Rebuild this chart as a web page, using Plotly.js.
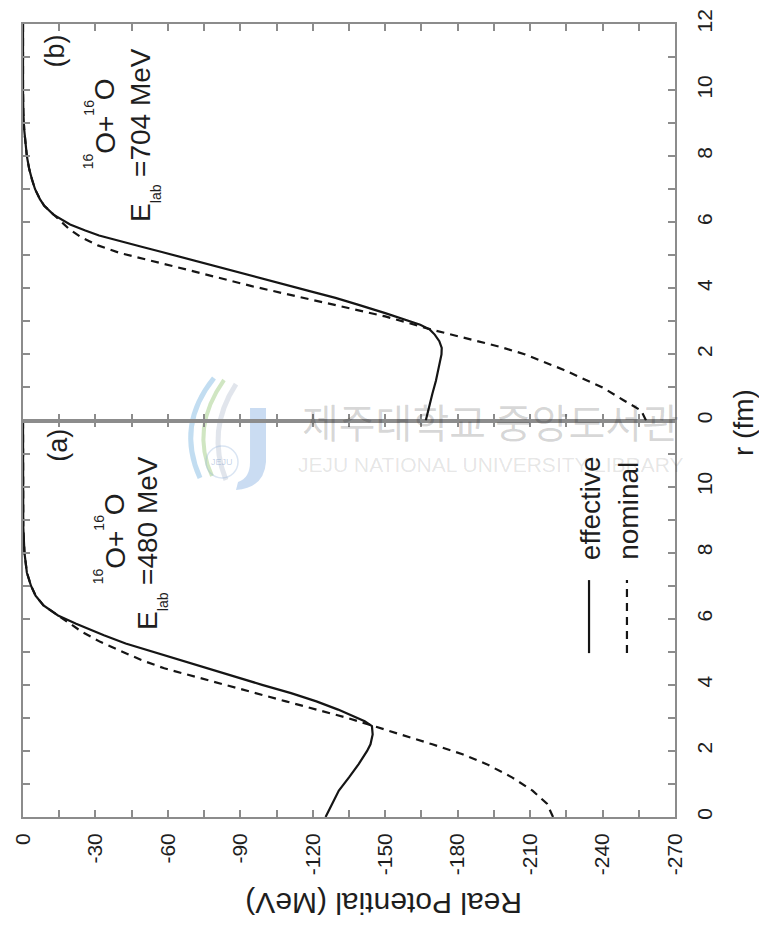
<!DOCTYPE html>
<html>
<head>
<meta charset="utf-8">
<script src="https://cdn.plot.ly/plotly-3.0.1.min.js"></script>
<style>
  html, body { margin: 0; padding: 0; background: #ffffff; }
  #chart { width: 759px; height: 928px; }
</style>
</head>
<body>
<div id="chart"></div>
<script>
// ---------------- data ----------------
// Panel (a): 16O+16O, E_lab = 480 MeV
const rEffA = [0, 0.4, 0.8, 1.2, 1.6, 2.0, 2.2, 2.5, 2.75, 2.9, 3.06, 3.25, 3.5, 3.75, 4.0, 4.25, 4.5, 4.75, 5.0, 5.25, 5.5, 5.7, 5.85, 6.1, 6.4, 6.7, 7.0, 7.4, 8.0, 8.8, 10, 12];
const vEffA = [-125.3, -128, -130.8, -135, -139, -142.5, -143.9, -144.8, -144.5, -141.5, -136.3, -130.5, -121.5, -111, -99, -87.5, -76, -64.5, -53, -42.5, -33.5, -26.5, -22, -14.5, -8.5, -5.2, -3.3, -1.6, -0.6, -0.1, 0, 0];
const rNomA = [0, 0.4, 0.8, 1.2, 1.6, 1.9, 2.2, 2.5, 2.75, 3.0, 3.5, 4.0, 4.5, 4.75, 5.0, 5.3, 5.6, 5.9, 6.2, 6.4, 6.7, 7.0, 7.4, 8.0, 8.8, 10, 12];
const vNomA = [-219.5, -217, -211, -202.5, -192, -182, -169.5, -156.5, -145.5, -134.3, -108.9, -83.5, -58.5, -49, -41, -32, -24.5, -18.5, -13, -8.5, -5.2, -3.3, -1.6, -0.6, -0.1, 0, 0];

// Panel (b): 16O+16O, E_lab = 704 MeV
const rEffB = [0, 0.4, 0.8, 1.2, 1.6, 2.0, 2.2, 2.4, 2.6, 2.75, 2.9, 3.05, 3.25, 3.5, 3.71, 3.9, 4.11, 4.3, 4.52, 4.72, 4.92, 5.1, 5.25, 5.47, 5.6, 5.75, 5.93, 6.23, 6.5, 6.7, 7.0, 7.3, 7.6, 8.0, 8.4, 8.8, 9.3, 10, 12];
const vEffB = [-166.8, -168, -169.5, -171, -172.3, -173.3, -173.4, -172.4, -170.5, -168.5, -164.5, -158.5, -150, -139, -129.4, -119.5, -108.8, -99, -88.2, -78, -67.6, -57.5, -49.5, -37.4, -31.5, -25.8, -19.5, -12.6, -8.8, -7, -5, -3.7, -2.6, -1.6, -0.9, -0.5, -0.15, 0, 0];
const rNomB = [0, 0.3, 0.62, 1.0, 1.53, 2.0, 2.23, 2.55, 2.75, 3.15, 3.61, 4.06, 4.57, 5.07, 5.3, 5.55, 5.8, 6.1, 6.23, 6.5, 6.7, 7.0, 7.3, 7.6, 8.0, 8.4, 8.8, 9.3, 10, 12];
const vNomB = [-258, -256, -248.5, -240, -224, -208, -197.5, -180.5, -169.3, -150, -122.6, -95.1, -67.6, -40.1, -31, -24, -19, -14.5, -12.6, -8.8, -7, -5, -3.7, -2.6, -1.6, -0.9, -0.5, -0.15, 0, 0];

// tick labels
const potTickVals = [0, -30, -60, -90, -120, -150, -180, -210, -240, -270];
const potTickText = ['0', '-30', '-60', '-90', '-120', '-150', '-180', '-210', '-240', '-270'];
const rTickVals = [0, 2, 4, 6, 8, 10, 12];
const rTickTextA = ['0', '2', '4', '6', '8', '10', ''];
const rTickTextB = ['0', '2', '4', '6', '8', '10', '12'];

// texts
const seriesNames = ['effective', 'nominal'];
const panelLabels = ['(a)', '(b)'];
const massNumber = '16';
const reactionParts = ['O+', 'O'];
const energyLabel = 'E';
const energySub = 'lab';
const energyValues = ['=480 MeV', '=704 MeV'];
const xTitle = 'Real Potential (MeV)';
const yTitle = 'r (fm)';
const watermarkKo = '제주대학교 중앙도서관';
const watermarkEn = 'JEJU NATIONAL UNIVERSITY LIBRARY';
const logoText = 'JEJU';

// ---------------- styling ----------------
const FONT = 'Liberation Sans, Arial, Helvetica, sans-serif';
const FRAME = '#8c8c8c';
const INK = '#151515';
const TXT = '#1e1e1e';

const solid = {color: INK, width: 2.2};
const dashed = {color: INK, width: 2.2, dash: '8px,6px'};

const traces = [
  {x: vEffA, y: rEffA, xaxis: 'x', yaxis: 'y', mode: 'lines', line: solid, name: seriesNames[0], hoverinfo: 'skip'},
  {x: vNomA, y: rNomA, xaxis: 'x', yaxis: 'y', mode: 'lines', line: dashed, name: seriesNames[1], hoverinfo: 'skip'},
  {x: vEffB, y: rEffB, xaxis: 'x2', yaxis: 'y2', mode: 'lines', line: solid, name: seriesNames[0], hoverinfo: 'skip'},
  {x: vNomB, y: rNomB, xaxis: 'x2', yaxis: 'y2', mode: 'lines', line: dashed, name: seriesNames[1], hoverinfo: 'skip'}
];

function xAxisCfg(anchor, showLabels) {
  return {
    domain: [0, 1], anchor: anchor, range: [0, -270],
    tickmode: 'array', tickvals: potTickVals, ticktext: potTickText,
    showticklabels: showLabels, tickangle: -90,
    tickfont: {family: FONT, size: 21, color: TXT},
    ticklabelstandoff: 6,
    ticks: 'inside', ticklen: 7, tickwidth: 1.5, tickcolor: FRAME,
    minor: {tickmode: 'linear', tick0: 0, dtick: 15, ticks: 'inside', ticklen: 7, tickwidth: 1.5, tickcolor: FRAME},
    showline: true, linecolor: FRAME, linewidth: 1.6, mirror: 'ticks',
    showgrid: false, zeroline: false, fixedrange: true
  };
}
function yAxisCfg(domain, anchor, ticktext) {
  return {
    domain: domain, anchor: anchor, side: 'right', range: [0, 12],
    tickmode: 'array', tickvals: rTickVals, ticktext: ticktext,
    tickangle: -90,
    tickfont: {family: FONT, size: 21, color: TXT},
    ticklabelstandoff: 10,
    ticks: 'inside', ticklen: 7, tickwidth: 1.5, tickcolor: FRAME,
    minor: {tickmode: 'linear', tick0: 0, dtick: 1, ticks: 'inside', ticklen: 7, tickwidth: 1.5, tickcolor: FRAME},
    showline: true, linecolor: FRAME, linewidth: 1.6, mirror: 'ticks',
    showgrid: false, zeroline: false, fixedrange: true
  };
}

// pixel -> paper helpers (positions only)
const PX = v => (v - 23) / 652;
const PY = v => (817 - v) / 793;

function note(text, xref, yref, x, y, size, angle, extra) {
  const a = {
    text: text, xref: xref, yref: yref, x: x, y: y, showarrow: false,
    xanchor: 'center', yanchor: 'middle',
    font: {family: FONT, size: size, color: TXT}
  };
  if (angle !== 0) a.textangle = angle;
  return Object.assign(a, extra || {});
}

// text width measurement (for composing rotated runs with super/subscripts)
const measureCtx = document.createElement('canvas').getContext('2d');
function textWidth(t, size) {
  measureCtx.font = size + 'px "Liberation Sans", Arial, sans-serif';
  return measureCtx.measureText(t).width;
}
// A run of text rotated -90deg (reads bottom to top). baseX: pixel x of the main baseline,
// startY: pixel y where the run begins. Each part: {t, size, shift} or {gap}.
function rotatedRun(parts, baseX, startY) {
  const out = [];
  let cum = 0;
  parts.forEach(p => {
    if (p.gap !== undefined) { cum += p.gap; return; }
    const w = textWidth(p.t, p.size);
    const cy = startY - (cum + w / 2);
    const cx = baseX + (p.shift || 0) - 0.3465 * p.size;
    out.push(note(p.t, 'paper', 'paper', PX(cx), PY(cy), p.size, -90));
    cum += w;
  });
  return out;
}

const MAIN = 28, SMALL = 14, SUP = -22, SUB = 11;
function reactionRun(baseX, startY) {
  return rotatedRun([
    {t: massNumber, size: SMALL, shift: SUP},
    {t: reactionParts[0], size: MAIN},
    {t: massNumber, size: SMALL, shift: SUP},
    {t: reactionParts[1], size: MAIN}
  ], baseX, startY);
}
function energyRun(value, baseX, startY) {
  return rotatedRun([
    {t: energyLabel, size: MAIN},
    {t: energySub, size: SMALL, shift: SUB},
    {gap: textWidth(' ', MAIN)},
    {t: value, size: MAIN}
  ], baseX, startY);
}

const annotations = [].concat(
  [
    // watermark (faint, horizontal)
    note(watermarkKo, 'paper', 'paper', PX(490), PY(421), 40, 0,
         {font: {family: 'Noto Sans CJK KR, sans-serif', size: 40, color: 'rgba(0,0,0,0.16)'}}),
    note(watermarkEn, 'paper', 'paper', PX(491), PY(465), 21, 0,
         {font: {family: FONT, size: 21, color: 'rgba(0,0,0,0.11)'}}),
    note(logoText, 'paper', 'paper', PX(222), PY(462), 9, 0,
         {font: {family: FONT, size: 9, color: 'rgba(90,130,190,0.35)'}}),
    // panel labels
    note(panelLabels[1], 'x', 'y2', -13.4, 11.18, 27, -90),
    note(panelLabels[0], 'x', 'y', -14.4, 11.26, 27, -90),
    // legend texts
    note(seriesNames[0], 'x', 'y', -235.3, 7.72, 28, -90, {yanchor: 'bottom'}),
    note(seriesNames[1], 'x', 'y', -250.9, 7.72, 28, -90, {yanchor: 'bottom'}),
    // axis titles
    note(xTitle, 'paper', 'paper', PX(384), PY(904), 30, 180),
    note(yTitle, 'paper', 'paper', PX(743), PY(423), 28, -90)
  ],
  reactionRun(115, 169),
  energyRun(energyValues[1], 150, 222),
  reactionRun(125, 584),
  energyRun(energyValues[0], 157, 630)
);

function paperPath(pts) {
  return pts.map(p => (typeof p === 'string') ? p : (PX(p[0]).toFixed(4) + ',' + PY(p[1]).toFixed(4))).join(' ');
}

const shapes = [
  // faint watermark logo (behind the curves)
  {type: 'path', xref: 'paper', yref: 'paper', layer: 'below',
   path: paperPath(['M', [214, 378], 'Q', [176, 425], [200, 478]]),
   line: {color: 'rgba(120,180,225,0.45)', width: 5}},
  {type: 'path', xref: 'paper', yref: 'paper', layer: 'below',
   path: paperPath(['M', [224, 380], 'Q', [190, 428], [212, 476]]),
   line: {color: 'rgba(150,200,120,0.45)', width: 4}},
  {type: 'path', xref: 'paper', yref: 'paper', layer: 'below',
   path: paperPath(['M', [236, 384], 'Q', [206, 430], [226, 480]]),
   line: {color: 'rgba(170,180,200,0.35)', width: 5}},
  {type: 'circle', xref: 'paper', yref: 'paper', layer: 'below',
   x0: PX(206), x1: PX(238), y0: PY(478), y1: PY(446),
   line: {color: 'rgba(150,180,220,0.35)', width: 1.5}, fillcolor: 'rgba(255,255,255,0)'},
  {type: 'path', xref: 'paper', yref: 'paper', layer: 'below',
   path: paperPath(['M', [250, 408], 'L', [266, 408], 'L', [266, 462], 'Q', [264, 488], [236, 490], 'L', [238, 482], 'Q', [250, 478], [250, 462], 'Z']),
   line: {width: 0}, fillcolor: 'rgba(150,185,230,0.5)'},
  // legend samples
  {type: 'line', xref: 'x', yref: 'y', x0: -234.4, x1: -234.4, y0: 4.96, y1: 7.17, line: solid},
  {type: 'line', xref: 'x', yref: 'y', x0: -250.1, x1: -250.1, y0: 4.96, y1: 7.17, line: dashed}
];

const layout = {
  width: 759, height: 928,
  margin: {l: 23, r: 84, t: 24, b: 111, pad: 0},
  paper_bgcolor: '#ffffff', plot_bgcolor: 'rgba(0,0,0,0)',
  showlegend: false,
  font: {family: FONT, size: 22, color: TXT},
  xaxis: xAxisCfg('y', true),
  xaxis2: Object.assign(xAxisCfg('y2', false), {matches: 'x'}),
  yaxis: yAxisCfg([0, 0.5], 'x', rTickTextA),
  yaxis2: yAxisCfg([0.5, 1], 'x2', rTickTextB),
  annotations: annotations,
  shapes: shapes
};

Plotly.newPlot('chart', traces, layout, {displayModeBar: false});
</script>
</body>
</html>
